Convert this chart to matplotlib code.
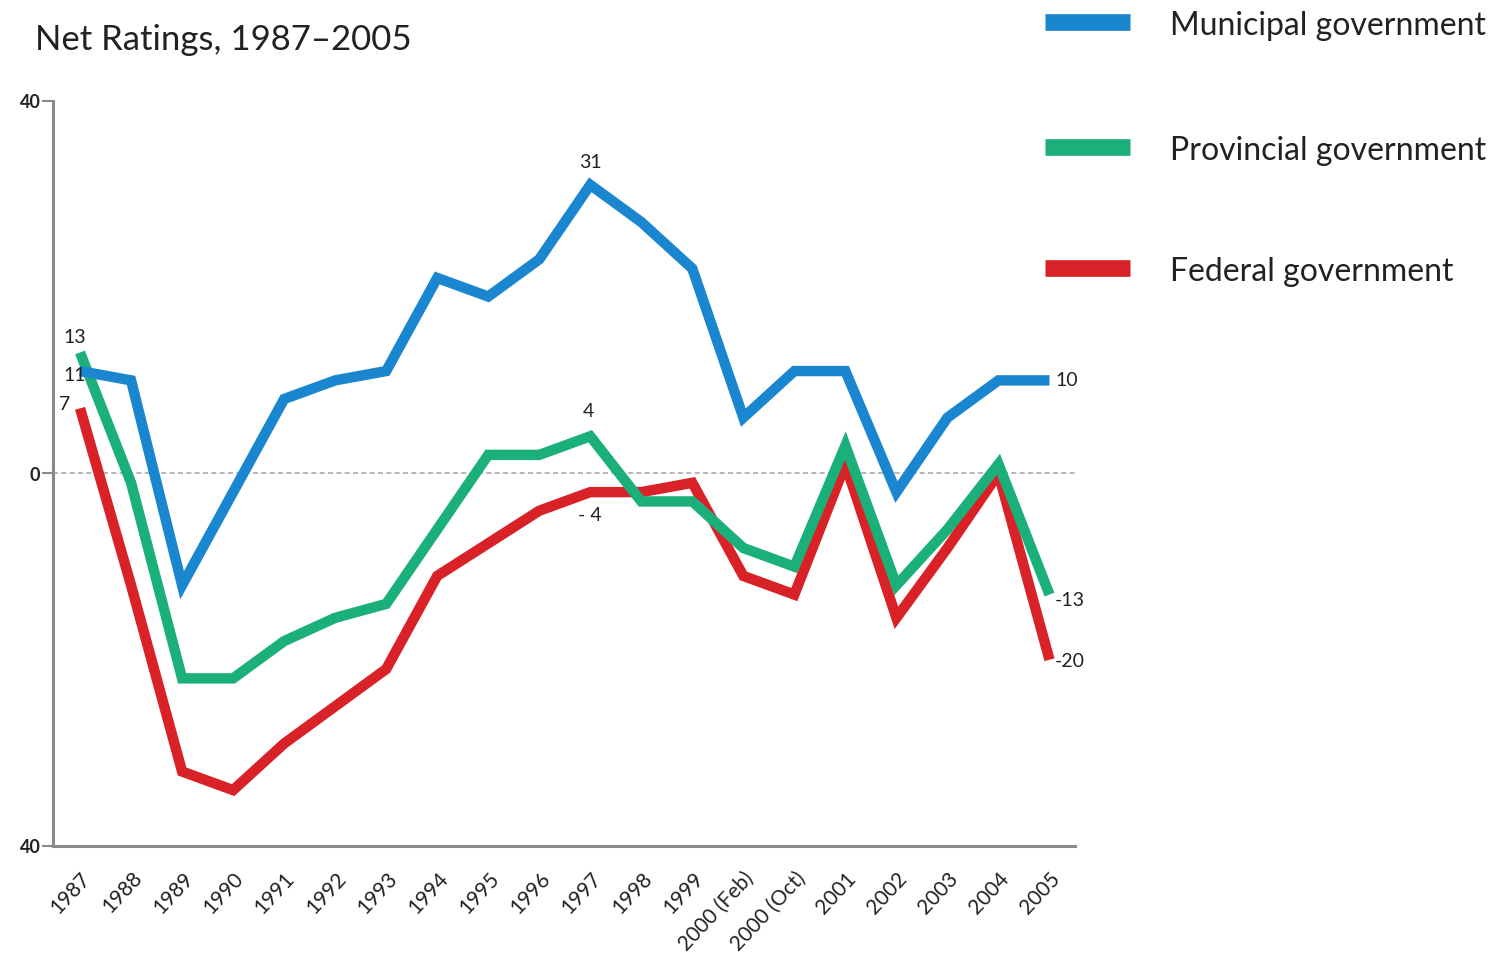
import matplotlib
matplotlib.use("Agg")
import matplotlib.pyplot as plt
from matplotlib.lines import Line2D

plt.rcParams['font.family'] = ['Lato', 'DejaVu Sans']

categories = ["1987", "1988", "1989", "1990", "1991", "1992", "1993", "1994",
              "1995", "1996", "1997", "1998", "1999", "2000 (Feb)", "2000 (Oct)",
              "2001", "2002", "2003", "2004", "2005"]

municipal = [11, 10, -12, -2, 8, 10, 11, 21, 19, 23, 31, 27, 22, 6, 11, 11, -2, 6, 10, 10]
provincial = [13, -1, -22, -22, -18, -15.5, -14, -6, 2, 2, 4, -3, -3, -8, -10, 3, -12, -6, 1, -13]
federal = [7, -12, -32, -34, -29, -25, -21, -11, -7.5, -4, -2, -2, -1, -11, -13, 1, -15.5, -8, 0, -20]

series_names = ["Municipal government", "Provincial government", "Federal government"]
colors = ["#1a86d0", "#1bb07a", "#d92128"]

# data labels: (series index, point index, text)
label_points = [(1, 0, "13"), (0, 0, "11"), (2, 0, "7"),
                (0, 10, "31"), (1, 10, "4"), (2, 10, "- 4"),
                (0, 19, "10"), (1, 19, "-13"), (2, 19, "-20")]

ytick_values = [40, 0, -40]
ytick_labels = ["40", "0", "40"]

fig = plt.figure(figsize=(15.01, 9.55), dpi=100)
ax = fig.add_axes([53 / 1501, 1 - 846 / 955, (1075 - 53) / 1501, (846 - 101) / 955])

x = list(range(len(categories)))
all_series = [municipal, provincial, federal]
for idx in [2, 1, 0]:
    ax.plot(x, all_series[idx], color=colors[idx], lw=7.5, solid_joinstyle='miter',
            solid_capstyle='butt', zorder=3 + (2 - idx))

ax.axhline(0, color="#aaaaaa", lw=1.2, ls=(0, (3, 2)), zorder=1)

ax.set_xlim(-0.53, 19.5)
ax.set_ylim(-40, 40)

for s in ["top", "right"]:
    ax.spines[s].set_visible(False)
for s in ["left", "bottom"]:
    ax.spines[s].set_color("#8a8a8a")
    ax.spines[s].set_linewidth(2.2)

ax.set_yticks(ytick_values)
ax.set_yticklabels(ytick_labels, fontsize=13, fontweight="bold", color="#222222")
ax.tick_params(axis="y", length=8, width=1.5, color="#8a8a8a", pad=1)

ax.set_xticks(x)
ax.set_xticklabels(categories, rotation=47, ha="right", va="top",
                   rotation_mode="anchor", fontsize=15, color="#222222")
ax.tick_params(axis="x", length=0, pad=16)

offsets = {
    (1, 0): (-12, 11, "left"), (0, 0): (-12, -3, "left"), (2, 0): (-15, 3, "left"),
    (0, 10): (0, 16, "center"), (1, 10): (-1, 18, "center"), (2, 10): (0, -17, "center"),
    (0, 19): (4, 0, "left"), (1, 19): (4, -4, "left"), (2, 19): (4, -1, "left"),
}
for si, pi, txt in label_points:
    dx, dy, ha = offsets[(si, pi)]
    ax.annotate(txt, (x[pi], all_series[si][pi]), xytext=(dx, dy),
                textcoords="offset points", ha=ha, va="center",
                fontsize=14, color="#222222", zorder=10)

fig.text(35 / 1501, 1 - 40 / 955, "Net Ratings, 1987\u20132005", fontsize=25,
         color="#222222", va="center", ha="left")

legend_y = [22, 147, 268]
for name, col, yy in zip(series_names, colors, legend_y):
    yf = 1 - yy / 955
    fig.add_artist(Line2D([1045 / 1501, 1130 / 1501], [yf, yf], color=col, lw=12,
                          solid_capstyle="butt", transform=fig.transFigure))
    fig.text(1170 / 1501, yf - 4 / 955, name, fontsize=23, color="#222222",
             va="center", ha="left")

fig.savefig("out.png", dpi=100)
